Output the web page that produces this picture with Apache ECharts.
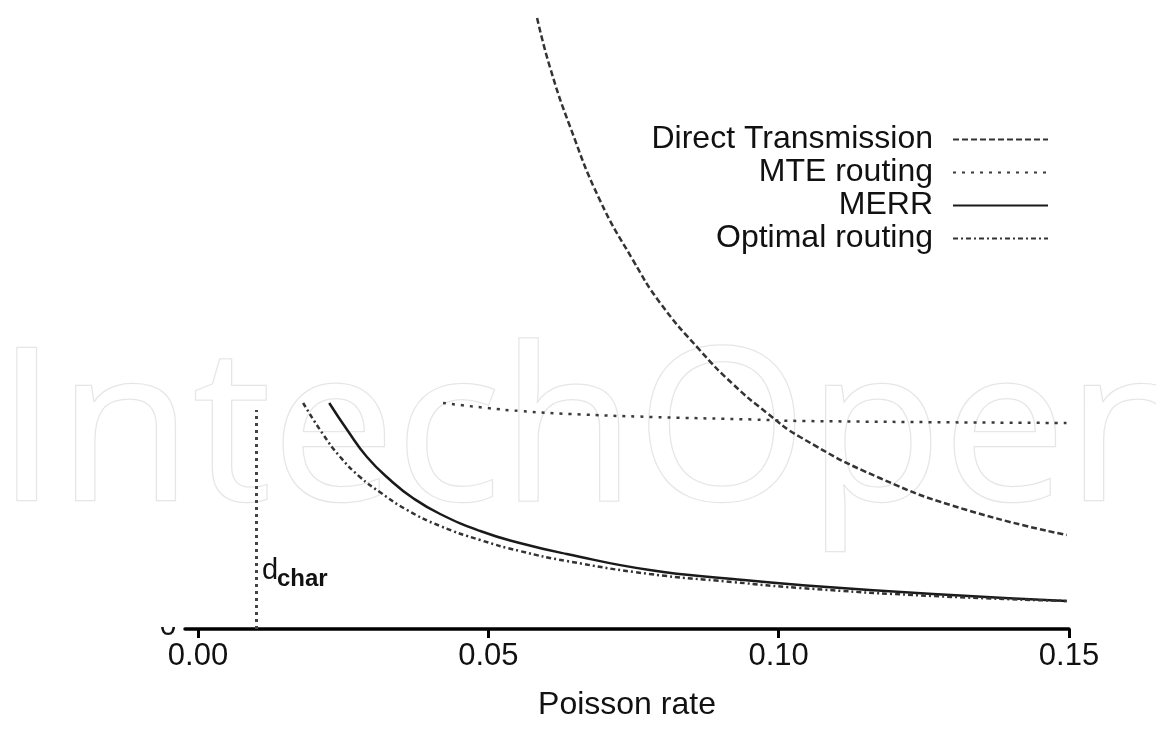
<!DOCTYPE html>
<html>
<head>
<meta charset="utf-8">
<script src="https://cdn.jsdelivr.net/npm/echarts@6/dist/echarts.min.js"></script>
<style>
  html, body { margin: 0; padding: 0; background: #fff; }
  #chart { width: 1156px; height: 729px; }
</style>
</head>
<body>
<div id="chart"></div>
<script>
// ---- data (x = Poisson rate, y = relative energy, arbitrary units) ----
var xTicks = [0, 0.05, 0.10, 0.15];

var directX = [0.0584, 0.0606, 0.0641, 0.0692, 0.0749, 0.0796, 0.0864, 0.0921, 0.0980, 0.1037, 0.1174, 0.1324, 0.1496];
var directY = [611, 562, 502, 429, 369, 326, 279, 245, 216, 192, 151, 119, 94];

var mteX = [0.0422, 0.0498, 0.0554, 0.0641, 0.0784, 0.0956, 0.1042, 0.1496];
var mteY = [226, 221, 218, 215, 212, 209.5, 208, 206];

var merrX = [0.0226, 0.0257, 0.0291, 0.0331, 0.0370, 0.0417, 0.0486, 0.0554, 0.0635, 0.0778, 0.0921, 0.1037, 0.1266, 0.1496];
var merrY = [226, 199, 172, 149, 131, 115, 98, 86, 75, 59, 50, 44, 35, 28];

var optX = [0.0181, 0.0215, 0.0245, 0.0279, 0.0313, 0.0360, 0.0417, 0.0486, 0.0554, 0.0635, 0.0778, 0.0921, 0.1037, 0.1266, 0.1496];
var optY = [226, 195, 172, 152, 137, 119, 103, 89, 78, 68, 55, 47, 41, 33, 28];

var dcharX = 0.01;
var dcharTop = 219;

var seriesNames = ['Direct Transmission', 'MTE routing', 'MERR', 'Optimal routing'];

function zip(xs, ys) { return xs.map(function (x, i) { return [x, ys[i]]; }); }

var FONT = '"Liberation Sans", Arial, Helvetica, sans-serif';
var chart = echarts.init(document.getElementById('chart'));

var option = {
  animation: false,
  backgroundColor: '#ffffff',
  grid: { left: 185, right: 87, top: 15, bottom: 100, containLabel: false },
  xAxis: {
    type: 'value',
    min: -0.00224,
    max: 0.15,
    name: 'Poisson rate',
    nameLocation: 'middle',
    nameGap: 60,
    nameTextStyle: { fontSize: 32, fontFamily: FONT, color: '#111' },
    axisLine: { show: true, onZero: false, lineStyle: { color: '#000', width: 3.5 } },
    axisTick: { show: true, customValues: xTicks, length: 9, lineStyle: { color: '#000', width: 3 } },
    axisLabel: {
      customValues: xTicks,
      formatter: function (v) { return v.toFixed(2); },
      fontSize: 31, fontFamily: FONT, color: '#111', margin: 12
    },
    splitLine: { show: false }
  },
  yAxis: {
    type: 'value', min: 0, max: 614, show: false,
    splitLine: { show: false }
  },
  legend: {
    orient: 'vertical',
    right: 102,
    top: 118,
    align: 'right',
    itemWidth: 95,
    itemHeight: 14,
    itemGap: 0,
    itemStyle: { opacity: 0 },
    textStyle: { fontSize: 32, fontFamily: FONT, color: '#111', lineHeight: 33, padding: [0, 15, 0, 0] },
    data: seriesNames
  },
  graphic: [
    {
      type: 'text', z: -10, silent: true, x: -4, y: 440, scaleX: 1.04,
      style: {
        text: 'IntechOpen', x: 0, y: 0,
        font: '400 212px "Open Sans", sans-serif',
        fill: '#ffffff', stroke: '#e6e6e6', lineWidth: 2.5,
        align: 'left', verticalAlign: 'middle'
      }
    },
    {
      type: 'text', silent: true, z: 1,
      style: { text: '0', x: 168, y: 627, font: '30px ' + FONT, fill: '#111', align: 'center', verticalAlign: 'middle' }
    },
    {
      type: 'rect', silent: true, z: 2,
      shape: { x: 150, y: 595, width: 34, height: 32 },
      style: { fill: '#ffffff' }
    },
    {
      type: 'text', silent: true, z: 5,
      style: { text: 'd', x: 262, y: 571, font: '29px ' + FONT, fill: '#111', align: 'left', verticalAlign: 'middle' }
    },
    {
      type: 'text', silent: true, z: 5,
      style: { text: 'char', x: 277, y: 579, font: 'bold 24px ' + FONT, fill: '#111', align: 'left', verticalAlign: 'middle' }
    }
  ],
  series: [
    {
      name: seriesNames[0], type: 'line', symbol: 'none', smooth: 0.5,
      data: zip(directX, directY),
      lineStyle: { color: '#333', width: 2.5, type: [6, 3] }
    },
    {
      name: seriesNames[1], type: 'line', symbol: 'none', smooth: 0.5,
      data: zip(mteX, mteY),
      lineStyle: { color: '#3a3a3a', width: 2.5, type: [3, 6] }
    },
    {
      name: seriesNames[2], type: 'line', symbol: 'none', smooth: 0.5,
      data: zip(merrX, merrY),
      lineStyle: { color: '#1a1a1a', width: 2.5, type: 'solid' },
      markLine: {
        silent: true, symbol: 'none', animation: false,
        label: { show: false },
        lineStyle: { color: '#444', width: 3, type: [3, 4] },
        data: [[{ coord: [dcharX, 0] }, { coord: [dcharX, dcharTop] }]]
      }
    },
    {
      name: seriesNames[3], type: 'line', symbol: 'none', smooth: 0.5,
      data: zip(optX, optY),
      lineStyle: { color: '#333', width: 2.5, type: [5, 3, 2, 3] }
    }
  ]
};

chart.setOption(option);
</script>
</body>
</html>
